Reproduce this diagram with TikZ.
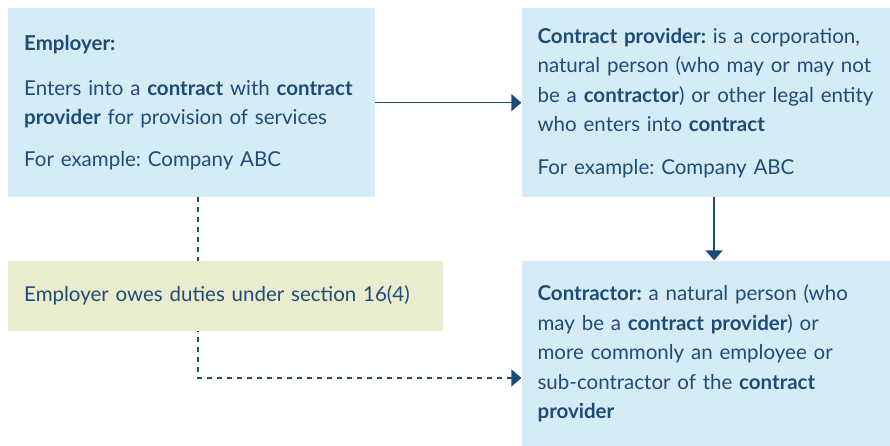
\documentclass[tikz,border=0pt]{standalone}
\usepackage{fontspec}
\setmainfont{Lato}
\frenchspacing
\usetikzlibrary{arrows.meta,backgrounds,positioning}

\definecolor{inkblue}{RGB}{30,76,120}
\definecolor{paleblue}{RGB}{213,236,246}
\definecolor{palesand}{RGB}{234,236,206}

\begin{document}
\begin{tikzpicture}[x=1pt, y=-1pt]
      \useasboundingbox (0,0) rectangle (890,446);
      \begin{scope}[every node/.style={fill=paleblue, text=inkblue, align=left,
          inner xsep=16pt, inner ysep=0pt, font=\fontsize{20.5}{29.5}\selectfont}]
        \node (employer) [text width=335pt, minimum height=189pt, anchor=north west] at (8,8)
          {\textbf{Employer:}\\[15pt]
           Enters into a \textbf{contract} with \textbf{contract}\\
           \textbf{provider} for provision of services\\[12pt]
           For example: Company ABC};
        \node (provider) [text width=353pt, minimum height=189pt,
          right=146pt of employer.north east, anchor=north west]
          {\textbf{Contract provider:} is a corporation,\\
           natural person (who may or may not\\
           be a \textbf{contractor}) or other legal entity\\
           who enters into \textbf{contract}\\[13pt]
           For example: Company ABC};
        \node (duties) [fill=palesand, text width=403pt, minimum height=70pt,
          below=63pt of employer.south west, anchor=north west]
          {Employer owes duties under section 16(4)};
        \node (contractor) [text width=353pt, minimum height=186pt,
          below=63pt of provider.south west, anchor=north west]
          {\textbf{Contractor:} a natural person (who\\
           may be a \textbf{contract provider}) or\\
           more commonly an employee or\\
           sub-contractor of the \textbf{contract}\\
           \textbf{provider}};
      \end{scope}
      \begin{scope}
        [every edge/.style={draw=inkblue, line width=1.5pt,
          -{Triangle[length=10pt,width=17pt]}}]
        \path (employer) edge (provider);
        \path (provider) edge (contractor);
        \begin{scope}[on background layer]
          \coordinate (bend) at (198,378);
          \path (employer.south -| bend) edge[line width=1.3pt, dash pattern=on 5pt off 5pt,
            to path={|- (\tikztotarget)}] (contractor.west |- bend);
        \end{scope}
      \end{scope}
    \end{tikzpicture}
\end{document}
